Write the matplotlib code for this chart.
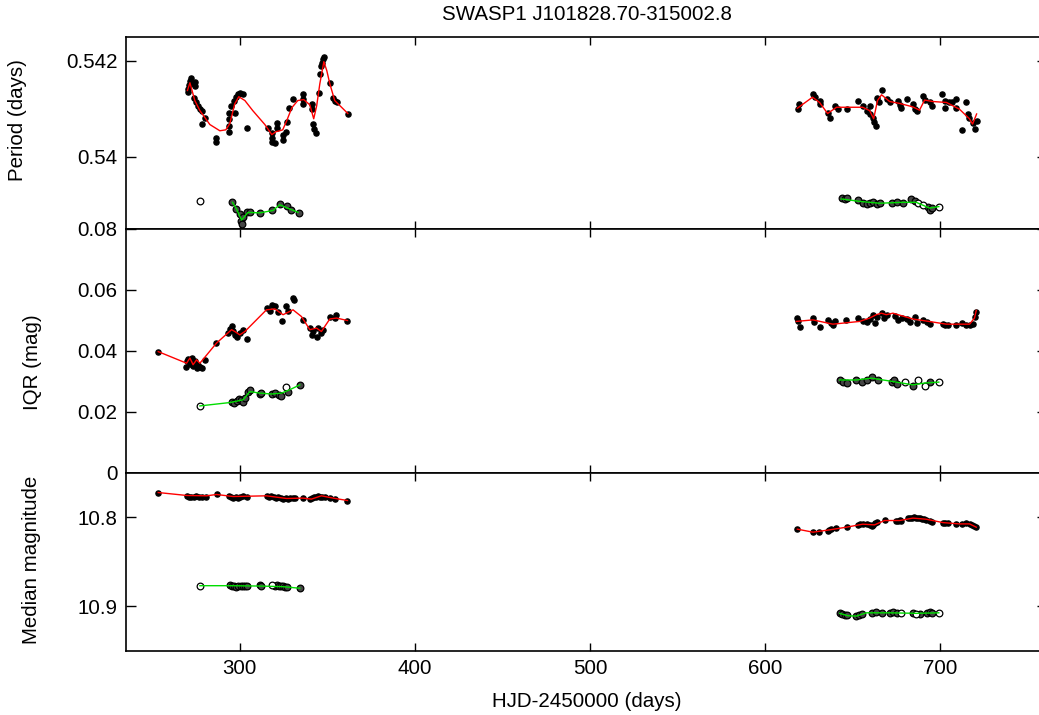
import matplotlib.pyplot as plt

plt.rcParams['font.family'] = ['Liberation Sans', 'DejaVu Sans']
plt.rcParams['font.size'] = 14.8

title = 'SWASP1 J101828.70-315002.8'

# ---------- Period panel ----------
per_pts_x_a = [270.3, 270.3, 270.9, 271.5, 272.0, 272.6, 274.3, 274.3, 273.7, 274.9, 276.0, 277.2, 278.3,
               280.0, 278.3, 286.3, 286.3, 293.7, 293.7, 293.7, 293.7, 294.9, 296.6, 297.7, 298.9, 300.0,
               301.7, 297.1, 304.0, 316.0, 318.3, 318.3, 318.3, 320.0, 321.1, 321.1, 324.5, 324.5, 326.3,
               326.8, 328.0, 330.3, 336.0, 336.0, 336.0, 341.1, 341.1, 341.7, 342.2, 343.4, 345.1, 345.7,
               346.2, 346.8, 347.4, 348.0, 351.4, 353.1, 354.2, 355.4, 361.7]
per_pts_y_a = [0.54142, 0.54135, 0.54150, 0.54158, 0.54165, 0.54154, 0.54156, 0.54148, 0.54123, 0.54113,
               0.54106, 0.54100, 0.54096, 0.54081, 0.54069, 0.54040, 0.54031, 0.54092, 0.54079, 0.54065,
               0.54052, 0.54106, 0.54117, 0.54125, 0.54131, 0.54133, 0.54131, 0.54092, 0.54060, 0.54060,
               0.54050, 0.54040, 0.54031, 0.54029, 0.54071, 0.54060, 0.54046, 0.54035, 0.54052, 0.54073,
               0.54102, 0.54121, 0.54131, 0.54121, 0.54110, 0.54110, 0.54100, 0.54069, 0.54058, 0.54050,
               0.54133, 0.54173, 0.54188, 0.54196, 0.54204, 0.54208, 0.54154, 0.54123, 0.54117, 0.54113,
               0.54090]
per_fit_x_a = [270.1, 271.5, 274.3, 277.2, 282.9, 288.6, 292.0, 294.3, 297.1, 299.4, 302.9, 307.4, 314.3,
               318.3, 320.6, 322.8, 324.5, 326.8, 329.7, 333.1, 336.5, 340.0, 342.2, 343.9, 345.7, 348.0,
               349.7, 351.4, 354.2, 361.7]
per_fit_y_a = [0.54138, 0.54154, 0.54117, 0.54096, 0.54067, 0.54054, 0.54056, 0.54069, 0.54110, 0.54125,
               0.54117, 0.54096, 0.54067, 0.54046, 0.54052, 0.54054, 0.54056, 0.54075, 0.54102, 0.54117,
               0.54119, 0.54108, 0.54079, 0.54106, 0.54152, 0.54198, 0.54179, 0.54152, 0.54117, 0.54090]

per_pts_x_b = [618.6, 619.2, 627.3, 628.4, 631.1, 631.1, 635.7, 636.9, 639.7, 641.4, 646.7, 652.8, 655.7,
               658.0, 659.7, 659.7, 661.4, 662.0, 663.1, 663.7, 664.8, 666.5, 669.4, 671.1, 675.7, 676.8,
               677.9, 680.8, 684.2, 685.4, 686.5, 689.9, 691.1, 693.9, 695.6, 700.8, 702.5, 702.5, 705.3,
               707.0, 709.3, 709.3, 712.2, 715.0, 715.6, 716.7, 718.5, 719.6, 720.8]
per_pts_y_b = [0.54100, 0.54110, 0.54131, 0.54125, 0.54117, 0.54110, 0.54092, 0.54081, 0.54106, 0.54100,
               0.54100, 0.54117, 0.54106, 0.54096, 0.54106, 0.54090, 0.54081, 0.54073, 0.54065, 0.54123,
               0.54113, 0.54138, 0.54121, 0.54113, 0.54117, 0.54108, 0.54102, 0.54121, 0.54110, 0.54100,
               0.54096, 0.54127, 0.54119, 0.54113, 0.54106, 0.54131, 0.54117, 0.54102, 0.54113, 0.54113,
               0.54121, 0.54102, 0.54056, 0.54113, 0.54090, 0.54081, 0.54071, 0.54058, 0.54075]
per_fit_x_b = [618.4, 627.1, 631.1, 635.7, 640.8, 655.7, 659.7, 662.0, 664.2, 666.5, 671.1, 676.8, 684.2,
               688.2, 691.1, 695.6, 703.6, 711.0, 716.7, 718.5, 720.8]
per_fit_y_b = [0.54101, 0.54124, 0.54113, 0.54090, 0.54103, 0.54103, 0.54096, 0.54079, 0.54117, 0.54129,
               0.54115, 0.54111, 0.54104, 0.54097, 0.54118, 0.54115, 0.54113, 0.54099, 0.54079, 0.54068,
               0.54089]

per2_pts_x_a = [295.8, 298.1, 300.0, 300.6, 301.5, 301.7, 304.0, 305.7, 311.4, 318.1, 322.8, 326.7,
                329.5, 333.9]
per2_pts_y_a = [0.53905, 0.53891, 0.53881, 0.53867, 0.53860, 0.53874, 0.53884, 0.53884, 0.53883, 0.53888,
                0.53902, 0.53898, 0.53888, 0.53883]
per2_open_x_a = [277.2]
per2_open_y_a = [0.53908]
per2_fit_x_a = [295.8, 298.1, 301.0, 304.7, 311.4, 319.0, 322.8, 328.5, 333.3]
per2_fit_y_a = [0.53905, 0.53891, 0.53868, 0.53884, 0.53883, 0.53888, 0.53900, 0.53891, 0.53884]

per2_pts_x_b = [643.7, 645.4, 646.5, 652.8, 655.7, 658.0, 659.7, 661.4, 663.7, 665.4, 672.3, 675.1,
                678.5, 683.6, 685.4, 692.8, 693.9, 695.1]
per2_pts_y_b = [0.53915, 0.53912, 0.53915, 0.53910, 0.53904, 0.53902, 0.53904, 0.53906, 0.53902, 0.53904,
                0.53904, 0.53906, 0.53904, 0.53912, 0.53908, 0.53896, 0.53890, 0.53894]
per2_open_x_b = [687.1, 689.9, 699.2]
per2_open_y_b = [0.53904, 0.53900, 0.53896]
per2_fit_x_b = [643.5, 653.9, 665.4, 678.5, 686.3, 693.9, 699.2]
per2_fit_y_b = [0.53912, 0.53907, 0.53903, 0.53905, 0.53905, 0.53893, 0.53896]

# ---------- IQR panel ----------
iqr_pts_x_a = [253.4, 269.2, 269.6, 270.3, 271.5, 272.6, 273.3, 274.3, 275.3, 276.0, 277.2, 278.3, 280.0,
               286.3, 293.1, 294.3, 295.3, 296.0, 297.1, 298.3, 300.0, 301.7, 304.2, 315.4, 317.1, 318.3,
               320.0, 321.7, 324.1, 326.1, 327.6, 330.4, 331.0, 336.1, 340.0, 341.1, 341.7, 343.8, 344.5,
               346.6, 347.4, 351.4, 354.2, 354.7, 361.5]
iqr_pts_y_a = [0.0397, 0.0346, 0.0365, 0.0372, 0.0356, 0.0376, 0.0350, 0.0367, 0.0343, 0.0352, 0.0346,
               0.0344, 0.0370, 0.0426, 0.0459, 0.0470, 0.0480, 0.0463, 0.0452, 0.0446, 0.0459, 0.0468,
               0.0438, 0.0540, 0.0530, 0.0551, 0.0545, 0.0527, 0.0496, 0.0545, 0.0529, 0.0573, 0.0566,
               0.0501, 0.0474, 0.0452, 0.0463, 0.0446, 0.0474, 0.0457, 0.0469, 0.0512, 0.0507, 0.0518,
               0.0499]
iqr_fit_x_a = [253.4, 269.6, 271.5, 273.3, 275.3, 277.2, 286.7, 295.3, 297.1, 300.0, 302.9, 315.2, 320.0,
               324.7, 330.4, 335.2, 340.0, 343.8, 346.6, 351.4, 355.2, 361.5]
iqr_fit_y_a = [0.0397, 0.0359, 0.0376, 0.0354, 0.0370, 0.0359, 0.0425, 0.0469, 0.0463, 0.0452, 0.0463,
               0.0534, 0.0537, 0.0518, 0.0534, 0.0512, 0.0469, 0.0474, 0.0463, 0.0504, 0.0507, 0.0499]

iqr_pts_x_b = [618.0, 618.6, 619.7, 627.3, 628.2, 631.1, 635.7, 637.4, 638.7, 639.7, 646.4, 653.0, 655.7,
               658.0, 659.7, 661.4, 662.5, 663.7, 666.5, 668.0, 669.4, 674.0, 676.0, 678.0, 680.8, 683.0,
               685.4, 687.0, 689.9, 692.2, 693.9, 701.4, 703.0, 704.2, 709.3, 712.2, 715.0, 716.8, 718.5,
               719.6, 720.6]
iqr_pts_y_b = [0.0508, 0.0496, 0.0479, 0.0508, 0.0495, 0.0479, 0.0501, 0.0492, 0.0485, 0.0496, 0.0501,
               0.0507, 0.0496, 0.0494, 0.0504, 0.0518, 0.0492, 0.0511, 0.0523, 0.0508, 0.0518, 0.0515,
               0.0501, 0.0508, 0.0504, 0.0495, 0.0511, 0.0492, 0.0501, 0.0495, 0.0487, 0.0487, 0.0483,
               0.0485, 0.0485, 0.0492, 0.0485, 0.0483, 0.0487, 0.0511, 0.0528]
iqr_fit_x_b = [617.8, 627.3, 638.7, 654.0, 659.7, 663.5, 666.4, 669.2, 673.0, 684.4, 695.8, 703.5, 716.8,
               719.6, 720.6]
iqr_fit_y_b = [0.0496, 0.0501, 0.0487, 0.0496, 0.0507, 0.0518, 0.0523, 0.0518, 0.0523, 0.0504, 0.0494,
               0.0487, 0.0487, 0.0507, 0.0532]

iqr2_pts_x_a = [295.4, 296.6, 298.3, 299.4, 300.6, 301.7, 302.9, 304.6, 305.7, 311.4, 312.0, 318.1, 320.0,
                322.3, 323.8, 327.6, 334.3]
iqr2_pts_y_a = [0.0233, 0.0229, 0.0236, 0.0242, 0.0239, 0.0233, 0.0245, 0.0266, 0.0272, 0.0258, 0.0262,
                0.0259, 0.0262, 0.0256, 0.0252, 0.0266, 0.0288]
iqr2_open_x_a = [277.2, 326.1]
iqr2_open_y_a = [0.0219, 0.0282]
iqr2_fit_x_a = [277.2, 294.3, 301.9, 305.7, 311.4, 318.1, 323.8, 328.5, 334.3]
iqr2_fit_y_a = [0.0219, 0.0230, 0.0239, 0.0266, 0.0261, 0.0258, 0.0261, 0.0272, 0.0288]

iqr2_pts_x_b = [642.6, 644.3, 646.5, 652.2, 655.1, 658.0, 661.2, 664.4, 672.2, 673.6, 675.1, 684.4, 693.9]
iqr2_pts_y_b = [0.0304, 0.0299, 0.0295, 0.0304, 0.0297, 0.0304, 0.0315, 0.0304, 0.0299, 0.0304, 0.0291,
                0.0285, 0.0299]
iqr2_open_x_b = [679.7, 687.2, 691.1, 699.2]
iqr2_open_y_b = [0.0299, 0.0304, 0.0285, 0.0297]
iqr2_fit_x_b = [642.6, 652.1, 660.6, 673.0, 684.4, 691.1, 699.2]
iqr2_fit_y_b = [0.0304, 0.0304, 0.0310, 0.0299, 0.0288, 0.0294, 0.0297]

# ---------- Median magnitude panel ----------
mag_pts_x_a = [253.4, 269.6, 270.9, 272.0, 273.7, 274.9, 276.6, 278.3, 280.6, 286.7, 293.7, 294.9, 296.0,
               297.7, 298.9, 300.0, 301.7, 304.0, 315.4, 316.6, 317.7, 319.4, 320.6, 321.7, 323.4, 324.5,
               326.3, 327.4, 328.6, 330.3, 331.4, 336.1, 340.0, 341.1, 342.3, 343.4, 344.5, 345.7, 346.8,
               348.5, 351.4, 354.2, 361.5]
mag_pts_y_a = [10.7723, 10.7760, 10.7775, 10.7768, 10.7775, 10.7765, 10.7778, 10.7772, 10.7775, 10.7741,
               10.7760, 10.7775, 10.7785, 10.7770, 10.7790, 10.7775, 10.7765, 10.7778, 10.7760, 10.7770,
               10.7765, 10.7778, 10.7785, 10.7775, 10.7790, 10.7795, 10.7790, 10.7798, 10.7788, 10.7782,
               10.7790, 10.7786, 10.7797, 10.7790, 10.7778, 10.7770, 10.7765, 10.7770, 10.7768, 10.7778,
               10.7786, 10.7800, 10.7813]
mag_fit_x_a = [253.4, 269.6, 281.0, 286.7, 296.2, 315.2, 326.7, 336.1, 340.9, 346.6, 353.3, 361.5]
mag_fit_y_a = [10.7723, 10.7756, 10.7760, 10.7745, 10.7768, 10.7760, 10.7790, 10.7786, 10.7797, 10.7760,
               10.7786, 10.7813]

mag_pts_x_b = [618.4, 627.3, 630.7, 635.7, 636.4, 637.7, 640.6, 646.7, 652.8, 654.0, 655.7, 658.0, 659.7,
               660.8, 661.8, 662.5, 663.7, 668.2, 674.6, 675.7, 676.8, 677.9, 681.4, 682.5, 683.7, 684.8,
               686.0, 687.1, 688.2, 689.4, 690.5, 691.7, 693.9, 695.6, 701.4, 702.5, 704.2, 709.3, 712.2,
               715.0, 716.8, 718.0, 719.1, 720.2]
mag_pts_y_b = [10.8135, 10.8169, 10.8169, 10.8155, 10.8143, 10.8135, 10.8124, 10.8113, 10.8090, 10.8079,
               10.8079, 10.8079, 10.8090, 10.8098, 10.8087, 10.8070, 10.8055, 10.8030, 10.8038, 10.8045,
               10.8030, 10.8038, 10.8015, 10.8005, 10.8010, 10.8000, 10.8005, 10.8010, 10.8015, 10.8020,
               10.8023, 10.8030, 10.8038, 10.8049, 10.8061, 10.8068, 10.8061, 10.8076, 10.8076, 10.8070,
               10.8080, 10.8090, 10.8100, 10.8110]
mag_fit_x_b = [618.4, 627.3, 636.8, 646.4, 655.8, 662.5, 668.2, 676.8, 684.4, 692.0, 701.5, 711.0, 716.8,
               720.6]
mag_fit_y_b = [10.8135, 10.8169, 10.8143, 10.8113, 10.8079, 10.8087, 10.8038, 10.8038, 10.8011, 10.8023,
               10.8061, 10.8076, 10.8076, 10.8113]

mag2_pts_x_a = [294.3, 295.4, 296.6, 297.7, 298.9, 300.6, 301.7, 302.9, 304.0, 311.4, 312.0, 320.0, 321.1,
                322.3, 323.4, 324.5, 325.7, 326.8, 334.3]
mag2_pts_y_a = [10.8768, 10.8778, 10.8772, 10.8782, 10.8775, 10.8780, 10.8773, 10.8778, 10.8772, 10.8768,
                10.8775, 10.8772, 10.8765, 10.8775, 10.8770, 10.8778, 10.8785, 10.8790, 10.8800]
mag2_open_x_a = [277.2, 318.1]
mag2_open_y_a = [10.8771, 10.8768]
mag2_fit_x_a = [277.2, 294.3, 311.4, 324.7, 334.3]
mag2_fit_y_a = [10.8771, 10.8771, 10.8775, 10.8782, 10.8800]

mag2_pts_x_b = [642.6, 643.7, 645.4, 647.0, 652.2, 653.4, 655.1, 661.2, 663.4, 666.5, 671.1, 672.8, 675.1,
                684.4, 688.2, 692.2, 693.9, 695.1]
mag2_pts_y_b = [10.9082, 10.9090, 10.9100, 10.9105, 10.9113, 10.9100, 10.9090, 10.9076, 10.9072, 10.9076,
                10.9076, 10.9072, 10.9080, 10.9082, 10.9085, 10.9078, 10.9072, 10.9080]
mag2_open_x_b = [677.9, 686.3, 699.2]
mag2_open_y_b = [10.9076, 10.9090, 10.9076]
mag2_fit_x_b = [642.6, 647.3, 652.1, 657.8, 671.1, 686.3, 699.2]
mag2_fit_y_b = [10.9082, 10.9109, 10.9113, 10.9076, 10.9076, 10.9082, 10.9076]

x_ticks = [300, 400, 500, 600, 700]
per_ticks = [0.54, 0.542]
per_labels = ['0.54', '0.542']
iqr_ticks = [0, 0.02, 0.04, 0.06, 0.08]
iqr_labels = ['0', '0.02', '0.04', '0.06', '0.08']
mag_ticks = [10.8, 10.9]
mag_labels = ['10.8', '10.9']

RED = '#ff0000'
GREEN = '#00dd00'

fig = plt.figure(figsize=(10.39, 7.15), dpi=100)
left, width = 126 / 1039, 921 / 1039
ax1 = fig.add_axes([left, 1 - 228.7 / 715, width, 192 / 715])
ax2 = fig.add_axes([left, 1 - 472.7 / 715, width, 244 / 715], sharex=ax1)
ax3 = fig.add_axes([left, 1 - 650.5 / 715, width, 177.8 / 715], sharex=ax1)


def draw(ax, px, py, fx, fy, color):
    ax.plot(px, py, 'o', ms=3.7, color='black', mec='black', zorder=2)
    ax.plot(fx, fy, '-', color=color, lw=1, zorder=3)


def draw2(ax, px, py, ox, oy, fx, fy):
    ax.plot(px, py, 'o', ms=4.8, mfc='#454545', mec='black', mew=0.9, zorder=2)
    ax.plot(ox, oy, 'o', ms=4.8, mfc='white', mec='black', mew=0.9, zorder=2)
    ax.plot(fx, fy, '-', color=GREEN, lw=1, zorder=3)


draw(ax1, per_pts_x_a, per_pts_y_a, per_fit_x_a, per_fit_y_a, RED)
draw(ax1, per_pts_x_b, per_pts_y_b, per_fit_x_b, per_fit_y_b, RED)
draw2(ax1, per2_pts_x_a, per2_pts_y_a, per2_open_x_a, per2_open_y_a, per2_fit_x_a, per2_fit_y_a)
draw2(ax1, per2_pts_x_b, per2_pts_y_b, per2_open_x_b, per2_open_y_b, per2_fit_x_b, per2_fit_y_b)

draw(ax2, iqr_pts_x_a, iqr_pts_y_a, iqr_fit_x_a, iqr_fit_y_a, RED)
draw(ax2, iqr_pts_x_b, iqr_pts_y_b, iqr_fit_x_b, iqr_fit_y_b, RED)
draw2(ax2, iqr2_pts_x_a, iqr2_pts_y_a, iqr2_open_x_a, iqr2_open_y_a, iqr2_fit_x_a, iqr2_fit_y_a)
draw2(ax2, iqr2_pts_x_b, iqr2_pts_y_b, iqr2_open_x_b, iqr2_open_y_b, iqr2_fit_x_b, iqr2_fit_y_b)

draw(ax3, mag_pts_x_a, mag_pts_y_a, mag_fit_x_a, mag_fit_y_a, RED)
draw(ax3, mag_pts_x_b, mag_pts_y_b, mag_fit_x_b, mag_fit_y_b, RED)
draw2(ax3, mag2_pts_x_a, mag2_pts_y_a, mag2_open_x_a, mag2_open_y_a, mag2_fit_x_a, mag2_fit_y_a)
draw2(ax3, mag2_pts_x_b, mag2_pts_y_b, mag2_open_x_b, mag2_open_y_b, mag2_fit_x_b, mag2_fit_y_b)

ax1.set_xlim(235, 761)
ax1.set_ylim(0.5385, 0.5425)
ax2.set_ylim(0, 0.08)
ax3.set_ylim(10.95, 10.75)

ax1.set_yticks(per_ticks, per_labels)
ax2.set_yticks(iqr_ticks, iqr_labels)
ax3.set_yticks(mag_ticks, mag_labels)
ax3.set_xticks(x_ticks)

for ax in (ax1, ax2, ax3):
    ax.tick_params(direction='in', top=True, right=True, length=7, width=1, labelsize=14.8, pad=6)
    ax.tick_params(axis='x', length=6)
    for s in ax.spines.values():
        s.set_linewidth(1.2)
ax1.tick_params(labelbottom=False)
ax2.tick_params(labelbottom=False)

ax1.set_title(title, fontsize=14.8, pad=12)
ax3.set_xlabel('HJD-2450000 (days)', fontsize=14.8, labelpad=10)
fig.text(18 / 1039, 1 - 120 / 715, 'Period (days)', rotation=90, ha='center', va='center')
fig.text(32 / 1039, 1 - 362 / 715, 'IQR (mag)', rotation=90, ha='center', va='center')
fig.text(32 / 1039, 1 - 560 / 715, 'Median magnitude', rotation=90, ha='center', va='center')

fig.savefig('out.png', dpi=100)
